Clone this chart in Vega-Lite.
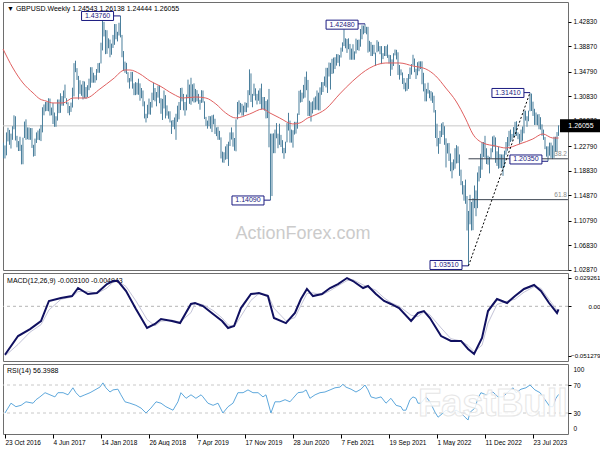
{
"$schema":"https://vega.github.io/schema/vega-lite/v6.json",
"padding":{"left":0,"top":1,"right":0,"bottom":0},
"background":"white",
"spacing":3,
"bounds":"flush",
"config":{"view":{"stroke":"#6e6e6e","strokeWidth":1},"font":"Liberation Sans","axis":{"labelFont":"Liberation Sans","labelFontSize":6.5,"labelColor":"#000","tickColor":"#000","grid":false,"domain":false,"labelOverlap":false},"text":{"font":"Liberation Sans"}},
"datasets":{
"bars":[
{"t":"2016-10-16","h":1.2335,"l":1.2085},{"t":"2016-10-23","h":1.2290,"l":1.2080},{"t":"2016-10-30","h":1.2500,"l":1.2130},{"t":"2016-11-06","h":1.2575,"l":1.2355},{"t":"2016-11-13","h":1.2540,"l":1.2300},{"t":"2016-11-20","h":1.2480,"l":1.2240},{"t":"2016-11-27","h":1.2600,"l":1.2380},{"t":"2016-12-04","h":1.2775,"l":1.2550},{"t":"2016-12-11","h":1.2760,"l":1.2370},{"t":"2016-12-18","h":1.2445,"l":1.2260},{"t":"2016-12-25","h":1.2360,"l":1.2200},
{"t":"2017-01-01","h":1.2430,"l":1.2200},{"t":"2017-01-08","h":1.2300,"l":1.1985},{"t":"2017-01-15","h":1.2415,"l":1.1987},{"t":"2017-01-22","h":1.2675,"l":1.2410},{"t":"2017-01-29","h":1.2710,"l":1.2380},{"t":"2017-02-05","h":1.2580,"l":1.2390},{"t":"2017-02-12","h":1.2580,"l":1.2380},{"t":"2017-02-19","h":1.2570,"l":1.2380},{"t":"2017-02-26","h":1.2570,"l":1.2250},{"t":"2017-03-05","h":1.2300,"l":1.2110},{"t":"2017-03-12","h":1.2400,"l":1.2120},{"t":"2017-03-19","h":1.2500,"l":1.2330},{"t":"2017-03-26","h":1.2530,"l":1.2380},{"t":"2017-04-02","h":1.2560,"l":1.2375},{"t":"2017-04-09","h":1.2620,"l":1.2360},{"t":"2017-04-16","h":1.2905,"l":1.2500},{"t":"2017-04-23","h":1.2950,"l":1.2775},{"t":"2017-04-30","h":1.2990,"l":1.2840},{"t":"2017-05-07","h":1.2990,"l":1.2845},{"t":"2017-05-14","h":1.3050,"l":1.2840},{"t":"2017-05-21","h":1.3045,"l":1.2770},{"t":"2017-05-28","h":1.2900,"l":1.2775},{"t":"2017-06-04","h":1.2975,"l":1.2635},{"t":"2017-06-11","h":1.2820,"l":1.2590},{"t":"2017-06-18","h":1.2760,"l":1.2590},{"t":"2017-06-25","h":1.3030,"l":1.2690},{"t":"2017-07-02","h":1.3030,"l":1.2810},{"t":"2017-07-09","h":1.3130,"l":1.2815},{"t":"2017-07-16","h":1.3085,"l":1.2930},{"t":"2017-07-23","h":1.3175,"l":1.2930},{"t":"2017-07-30","h":1.3270,"l":1.3050},{"t":"2017-08-06","h":1.3050,"l":1.2955},{"t":"2017-08-13","h":1.2985,"l":1.2810},{"t":"2017-08-20","h":1.2925,"l":1.2775},{"t":"2017-08-27","h":1.2980,"l":1.2830},{"t":"2017-09-03","h":1.3220,"l":1.2900},{"t":"2017-09-10","h":1.3615,"l":1.3080},{"t":"2017-09-17","h":1.3655,"l":1.3470},{"t":"2017-09-24","h":1.3535,"l":1.3345},{"t":"2017-10-01","h":1.3410,"l":1.3030},{"t":"2017-10-08","h":1.3340,"l":1.3120},{"t":"2017-10-15","h":1.3270,"l":1.3090},{"t":"2017-10-22","h":1.3330,"l":1.3030},{"t":"2017-10-29","h":1.3320,"l":1.3050},{"t":"2017-11-05","h":1.3230,"l":1.3040},{"t":"2017-11-12","h":1.3260,"l":1.3070},{"t":"2017-11-19","h":1.3365,"l":1.3180},{"t":"2017-11-26","h":1.3550,"l":1.3220},{"t":"2017-12-03","h":1.3550,"l":1.3300},{"t":"2017-12-10","h":1.3460,"l":1.3300},{"t":"2017-12-17","h":1.3420,"l":1.3300},{"t":"2017-12-24","h":1.3520,"l":1.3340},{"t":"2017-12-31","h":1.3615,"l":1.3460},
{"t":"2018-01-07","h":1.3620,"l":1.3460},{"t":"2018-01-14","h":1.3945,"l":1.3610},{"t":"2018-01-21","h":1.4345,"l":1.3820},{"t":"2018-01-28","h":1.4280,"l":1.4045},{"t":"2018-02-04","h":1.4150,"l":1.3760},{"t":"2018-02-11","h":1.4145,"l":1.3765},{"t":"2018-02-18","h":1.4015,"l":1.3855},{"t":"2018-02-25","h":1.3995,"l":1.3710},{"t":"2018-03-04","h":1.3930,"l":1.3750},{"t":"2018-03-11","h":1.4070,"l":1.3860},{"t":"2018-03-18","h":1.4245,"l":1.3910},{"t":"2018-03-25","h":1.4245,"l":1.4000},{"t":"2018-04-01","h":1.4120,"l":1.3965},{"t":"2018-04-08","h":1.4265,"l":1.4060},{"t":"2018-04-15","h":1.4376,"l":1.4030},{"t":"2018-04-22","h":1.4070,"l":1.3710},{"t":"2018-04-29","h":1.3810,"l":1.3490},{"t":"2018-05-06","h":1.3640,"l":1.3460},{"t":"2018-05-13","h":1.3620,"l":1.3440},{"t":"2018-05-20","h":1.3470,"l":1.3305},{"t":"2018-05-27","h":1.3375,"l":1.3205},{"t":"2018-06-03","h":1.3475,"l":1.3320},{"t":"2018-06-10","h":1.3475,"l":1.3205},{"t":"2018-06-17","h":1.3290,"l":1.3100},{"t":"2018-06-24","h":1.3310,"l":1.3100},{"t":"2018-07-01","h":1.3300,"l":1.3110},{"t":"2018-07-08","h":1.3365,"l":1.3105},{"t":"2018-07-15","h":1.3290,"l":1.3010},{"t":"2018-07-22","h":1.3215,"l":1.3050},{"t":"2018-07-29","h":1.3175,"l":1.2920},{"t":"2018-08-05","h":1.3000,"l":1.2725},{"t":"2018-08-12","h":1.2800,"l":1.2660},{"t":"2018-08-19","h":1.2945,"l":1.2730},{"t":"2018-08-26","h":1.3045,"l":1.2790},{"t":"2018-09-02","h":1.2990,"l":1.2785},{"t":"2018-09-09","h":1.3140,"l":1.2900},{"t":"2018-09-16","h":1.3300,"l":1.3020},{"t":"2018-09-23","h":1.3215,"l":1.3000},{"t":"2018-09-30","h":1.3150,"l":1.2920},{"t":"2018-10-07","h":1.3255,"l":1.3060},{"t":"2018-10-14","h":1.3260,"l":1.2970},{"t":"2018-10-21","h":1.3050,"l":1.2800},{"t":"2018-10-28","h":1.3040,"l":1.2700},{"t":"2018-11-04","h":1.3175,"l":1.2885},{"t":"2018-11-11","h":1.3100,"l":1.2725},{"t":"2018-11-18","h":1.2935,"l":1.2770},{"t":"2018-11-25","h":1.2840,"l":1.2720},{"t":"2018-12-02","h":1.2840,"l":1.2660},{"t":"2018-12-09","h":1.2690,"l":1.2475},{"t":"2018-12-16","h":1.2700,"l":1.2590},{"t":"2018-12-23","h":1.2740,"l":1.2550},{"t":"2018-12-30","h":1.2800,"l":1.2380},
{"t":"2019-01-06","h":1.2930,"l":1.2670},{"t":"2019-01-13","h":1.2990,"l":1.2710},{"t":"2019-01-20","h":1.3215,"l":1.2860},{"t":"2019-01-27","h":1.3220,"l":1.3000},{"t":"2019-02-03","h":1.3120,"l":1.2855},{"t":"2019-02-10","h":1.2990,"l":1.2770},{"t":"2019-02-17","h":1.3110,"l":1.2855},{"t":"2019-02-24","h":1.3350,"l":1.3050},{"t":"2019-03-03","h":1.3270,"l":1.2960},{"t":"2019-03-10","h":1.3380,"l":1.2945},{"t":"2019-03-17","h":1.3275,"l":1.3000},{"t":"2019-03-24","h":1.3290,"l":1.2980},{"t":"2019-03-31","h":1.3200,"l":1.2985},{"t":"2019-04-07","h":1.3180,"l":1.3000},{"t":"2019-04-14","h":1.3120,"l":1.2960},{"t":"2019-04-21","h":1.3025,"l":1.2865},{"t":"2019-04-28","h":1.3180,"l":1.2975},{"t":"2019-05-05","h":1.3175,"l":1.2980},{"t":"2019-05-12","h":1.3000,"l":1.2715},{"t":"2019-05-19","h":1.2750,"l":1.2605},{"t":"2019-05-26","h":1.2690,"l":1.2560},{"t":"2019-06-02","h":1.2765,"l":1.2600},{"t":"2019-06-09","h":1.2760,"l":1.2560},{"t":"2019-06-16","h":1.2775,"l":1.2505},{"t":"2019-06-23","h":1.2785,"l":1.2630},{"t":"2019-06-30","h":1.2720,"l":1.2475},{"t":"2019-07-07","h":1.2580,"l":1.2440},{"t":"2019-07-14","h":1.2590,"l":1.2380},{"t":"2019-07-21","h":1.2525,"l":1.2380},{"t":"2019-07-28","h":1.2420,"l":1.2080},{"t":"2019-08-04","h":1.2190,"l":1.2015},{"t":"2019-08-11","h":1.2180,"l":1.2010},{"t":"2019-08-18","h":1.2275,"l":1.2060},{"t":"2019-08-25","h":1.2310,"l":1.2070},{"t":"2019-09-01","h":1.2350,"l":1.1960},{"t":"2019-09-08","h":1.2500,"l":1.2280},{"t":"2019-09-15","h":1.2580,"l":1.2385},{"t":"2019-09-22","h":1.2500,"l":1.2270},{"t":"2019-09-29","h":1.2410,"l":1.2205},{"t":"2019-10-06","h":1.2710,"l":1.2195},{"t":"2019-10-13","h":1.2990,"l":1.2710},{"t":"2019-10-20","h":1.3015,"l":1.2790},{"t":"2019-10-27","h":1.2975,"l":1.2820},{"t":"2019-11-03","h":1.2960,"l":1.2770},{"t":"2019-11-10","h":1.2930,"l":1.2770},{"t":"2019-11-17","h":1.2985,"l":1.2825},{"t":"2019-11-24","h":1.2975,"l":1.2825},{"t":"2019-12-01","h":1.3180,"l":1.2900},{"t":"2019-12-08","h":1.3515,"l":1.3100},{"t":"2019-12-15","h":1.3450,"l":1.2990},{"t":"2019-12-22","h":1.3120,"l":1.2905},{"t":"2019-12-29","h":1.3285,"l":1.3090},
{"t":"2020-01-05","h":1.3210,"l":1.3015},{"t":"2020-01-12","h":1.3120,"l":1.2950},{"t":"2020-01-19","h":1.3175,"l":1.3010},{"t":"2020-01-26","h":1.3210,"l":1.2955},{"t":"2020-02-02","h":1.3285,"l":1.2870},{"t":"2020-02-09","h":1.3070,"l":1.2875},{"t":"2020-02-16","h":1.3070,"l":1.2850},{"t":"2020-02-23","h":1.3005,"l":1.2725},{"t":"2020-03-01","h":1.3030,"l":1.2730},{"t":"2020-03-08","h":1.3200,"l":1.2260},{"t":"2020-03-15","h":1.2480,"l":1.1410},{"t":"2020-03-22","h":1.2480,"l":1.1475},{"t":"2020-03-29","h":1.2485,"l":1.2165},{"t":"2020-04-05","h":1.2545,"l":1.2165},{"t":"2020-04-12","h":1.2650,"l":1.2405},{"t":"2020-04-19","h":1.2480,"l":1.2245},{"t":"2020-04-26","h":1.2640,"l":1.2300},{"t":"2020-05-03","h":1.2460,"l":1.2265},{"t":"2020-05-10","h":1.2375,"l":1.2165},{"t":"2020-05-17","h":1.2250,"l":1.2075},{"t":"2020-05-24","h":1.2350,"l":1.2165},{"t":"2020-05-31","h":1.2650,"l":1.2340},{"t":"2020-06-07","h":1.2815,"l":1.2530},{"t":"2020-06-14","h":1.2690,"l":1.2335},{"t":"2020-06-21","h":1.2545,"l":1.2335},{"t":"2020-06-28","h":1.2535,"l":1.2255},{"t":"2020-07-05","h":1.2670,"l":1.2465},{"t":"2020-07-12","h":1.2670,"l":1.2480},{"t":"2020-07-19","h":1.2805,"l":1.2560},{"t":"2020-07-26","h":1.3170,"l":1.2780},{"t":"2020-08-02","h":1.3185,"l":1.2980},{"t":"2020-08-09","h":1.3140,"l":1.2990},{"t":"2020-08-16","h":1.3265,"l":1.3045},{"t":"2020-08-23","h":1.3395,"l":1.3060},{"t":"2020-08-30","h":1.3480,"l":1.3180},{"t":"2020-09-06","h":1.3345,"l":1.2765},{"t":"2020-09-13","h":1.3010,"l":1.2765},{"t":"2020-09-20","h":1.2985,"l":1.2675},{"t":"2020-09-27","h":1.3000,"l":1.2805},{"t":"2020-10-04","h":1.3060,"l":1.2860},{"t":"2020-10-11","h":1.3080,"l":1.2865},{"t":"2020-10-18","h":1.3175,"l":1.2865},{"t":"2020-10-25","h":1.3140,"l":1.2855},{"t":"2020-11-01","h":1.3225,"l":1.2855},{"t":"2020-11-08","h":1.3310,"l":1.3105},{"t":"2020-11-15","h":1.3310,"l":1.3150},{"t":"2020-11-22","h":1.3400,"l":1.3250},{"t":"2020-11-29","h":1.3540,"l":1.3225},{"t":"2020-12-06","h":1.3540,"l":1.3135},{"t":"2020-12-13","h":1.3625,"l":1.3400},{"t":"2020-12-20","h":1.3620,"l":1.3190},{"t":"2020-12-27","h":1.3685,"l":1.3440},
{"t":"2021-01-03","h":1.3705,"l":1.3450},{"t":"2021-01-10","h":1.3710,"l":1.3520},{"t":"2021-01-17","h":1.3760,"l":1.3575},{"t":"2021-01-24","h":1.3760,"l":1.3620},{"t":"2021-01-31","h":1.3745,"l":1.3565},{"t":"2021-02-07","h":1.3865,"l":1.3705},{"t":"2021-02-14","h":1.3950,"l":1.3800},{"t":"2021-02-21","h":1.4240,"l":1.3890},{"t":"2021-02-28","h":1.4015,"l":1.3855},{"t":"2021-03-07","h":1.4005,"l":1.3780},{"t":"2021-03-14","h":1.4015,"l":1.3840},{"t":"2021-03-21","h":1.3925,"l":1.3670},{"t":"2021-03-28","h":1.3850,"l":1.3670},{"t":"2021-04-04","h":1.3920,"l":1.3670},{"t":"2021-04-11","h":1.3805,"l":1.3670},{"t":"2021-04-18","h":1.4010,"l":1.3770},{"t":"2021-04-25","h":1.3990,"l":1.3825},{"t":"2021-05-02","h":1.3995,"l":1.3815},{"t":"2021-05-09","h":1.4165,"l":1.3880},{"t":"2021-05-16","h":1.4225,"l":1.4000},{"t":"2021-05-23","h":1.4220,"l":1.4080},{"t":"2021-05-30","h":1.4248,"l":1.4100},{"t":"2021-06-06","h":1.4200,"l":1.4080},{"t":"2021-06-13","h":1.4200,"l":1.3785},{"t":"2021-06-20","h":1.3975,"l":1.3800},{"t":"2021-06-27","h":1.3955,"l":1.3730},{"t":"2021-07-04","h":1.3910,"l":1.3730},{"t":"2021-07-11","h":1.3910,"l":1.3760},{"t":"2021-07-18","h":1.3785,"l":1.3570},{"t":"2021-07-25","h":1.3985,"l":1.3790},{"t":"2021-08-01","h":1.3960,"l":1.3805},{"t":"2021-08-08","h":1.3890,"l":1.3760},{"t":"2021-08-15","h":1.3890,"l":1.3600},{"t":"2021-08-22","h":1.3775,"l":1.3680},{"t":"2021-08-29","h":1.3890,"l":1.3730},{"t":"2021-09-05","h":1.3890,"l":1.3730},{"t":"2021-09-12","h":1.3915,"l":1.3700},{"t":"2021-09-19","h":1.3750,"l":1.3610},{"t":"2021-09-26","h":1.3745,"l":1.3410},{"t":"2021-10-03","h":1.3675,"l":1.3510},{"t":"2021-10-10","h":1.3775,"l":1.3570},{"t":"2021-10-17","h":1.3835,"l":1.3740},{"t":"2021-10-24","h":1.3830,"l":1.3675},{"t":"2021-10-31","h":1.3790,"l":1.3425},{"t":"2021-11-07","h":1.3585,"l":1.3350},{"t":"2021-11-14","h":1.3515,"l":1.3420},{"t":"2021-11-21","h":1.3465,"l":1.3280},{"t":"2021-11-28","h":1.3375,"l":1.3195},{"t":"2021-12-05","h":1.3300,"l":1.3160},{"t":"2021-12-12","h":1.3375,"l":1.3170},{"t":"2021-12-19","h":1.3440,"l":1.3200},{"t":"2021-12-26","h":1.3545,"l":1.3360},
{"t":"2022-01-02","h":1.3600,"l":1.3430},{"t":"2022-01-09","h":1.3750,"l":1.3580},{"t":"2022-01-16","h":1.3690,"l":1.3470},{"t":"2022-01-23","h":1.3525,"l":1.3360},{"t":"2022-01-30","h":1.3630,"l":1.3420},{"t":"2022-02-06","h":1.3645,"l":1.3485},{"t":"2022-02-13","h":1.3645,"l":1.3520},{"t":"2022-02-20","h":1.3645,"l":1.3275},{"t":"2022-02-27","h":1.3460,"l":1.3160},{"t":"2022-03-06","h":1.3290,"l":1.3000},{"t":"2022-03-13","h":1.3200,"l":1.3000},{"t":"2022-03-20","h":1.3300,"l":1.3125},{"t":"2022-03-27","h":1.3180,"l":1.3050},{"t":"2022-04-03","h":1.3165,"l":1.3010},{"t":"2022-04-10","h":1.3145,"l":1.2975},{"t":"2022-04-17","h":1.3090,"l":1.2820},{"t":"2022-04-24","h":1.2860,"l":1.2410},{"t":"2022-05-01","h":1.2640,"l":1.2275},{"t":"2022-05-08","h":1.2410,"l":1.2155},{"t":"2022-05-15","h":1.2525,"l":1.2315},{"t":"2022-05-22","h":1.2645,"l":1.2425},{"t":"2022-05-29","h":1.2665,"l":1.2460},{"t":"2022-06-05","h":1.2600,"l":1.2300},{"t":"2022-06-12","h":1.2405,"l":1.1935},{"t":"2022-06-19","h":1.2325,"l":1.2160},{"t":"2022-06-26","h":1.2330,"l":1.2040},{"t":"2022-07-03","h":1.2160,"l":1.1875},{"t":"2022-07-10","h":1.2020,"l":1.1760},{"t":"2022-07-17","h":1.2065,"l":1.1890},{"t":"2022-07-24","h":1.2245,"l":1.1915},{"t":"2022-07-31","h":1.2295,"l":1.2000},{"t":"2022-08-07","h":1.2275,"l":1.2005},{"t":"2022-08-14","h":1.2145,"l":1.1800},{"t":"2022-08-21","h":1.1900,"l":1.1650},{"t":"2022-08-28","h":1.1715,"l":1.1500},{"t":"2022-09-04","h":1.1650,"l":1.1400},{"t":"2022-09-11","h":1.1740,"l":1.1350},{"t":"2022-09-18","h":1.1475,"l":1.0920},{"t":"2022-09-25","h":1.1235,"l":1.0351},{"t":"2022-10-02","h":1.1495,"l":1.1020},{"t":"2022-10-09","h":1.1380,"l":1.0920},{"t":"2022-10-16","h":1.1440,"l":1.0925},{"t":"2022-10-23","h":1.1645,"l":1.1280},{"t":"2022-10-30","h":1.1565,"l":1.1150},{"t":"2022-11-06","h":1.1855,"l":1.1280},{"t":"2022-11-13","h":1.1955,"l":1.1710},{"t":"2022-11-20","h":1.2155,"l":1.1765},{"t":"2022-11-27","h":1.2345,"l":1.1900},{"t":"2022-12-04","h":1.2345,"l":1.2105},{"t":"2022-12-11","h":1.2445,"l":1.2090},{"t":"2022-12-18","h":1.2245,"l":1.1990},{"t":"2022-12-25","h":1.2125,"l":1.1980},
{"t":"2023-01-01","h":1.2105,"l":1.1840},{"t":"2023-01-08","h":1.2245,"l":1.2085},{"t":"2023-01-15","h":1.2435,"l":1.2180},{"t":"2023-01-22","h":1.2450,"l":1.2265},{"t":"2023-01-29","h":1.2420,"l":1.2010},{"t":"2023-02-05","h":1.2195,"l":1.1960},{"t":"2023-02-12","h":1.2270,"l":1.1915},{"t":"2023-02-19","h":1.2150,"l":1.1925},{"t":"2023-02-26","h":1.2145,"l":1.1925},{"t":"2023-03-05","h":1.2145,"l":1.1800},{"t":"2023-03-12","h":1.2205,"l":1.1940},{"t":"2023-03-19","h":1.2345,"l":1.2140},{"t":"2023-03-26","h":1.2425,"l":1.2205},{"t":"2023-04-02","h":1.2525,"l":1.2275},{"t":"2023-04-09","h":1.2545,"l":1.2345},{"t":"2023-04-16","h":1.2475,"l":1.2365},{"t":"2023-04-23","h":1.2585,"l":1.2420},{"t":"2023-04-30","h":1.2670,"l":1.2440},{"t":"2023-05-07","h":1.2680,"l":1.2445},{"t":"2023-05-14","h":1.2500,"l":1.2390},{"t":"2023-05-21","h":1.2475,"l":1.2310},{"t":"2023-05-28","h":1.2545,"l":1.2340},{"t":"2023-06-04","h":1.2595,"l":1.2365},{"t":"2023-06-11","h":1.2850,"l":1.2485},{"t":"2023-06-18","h":1.2850,"l":1.2690},{"t":"2023-06-25","h":1.2760,"l":1.2590},{"t":"2023-07-02","h":1.2850,"l":1.2680},{"t":"2023-07-09","h":1.3141,"l":1.2840},{"t":"2023-07-16","h":1.3125,"l":1.2845},{"t":"2023-07-23","h":1.2995,"l":1.2765},{"t":"2023-07-30","h":1.2880,"l":1.2620},{"t":"2023-08-06","h":1.2820,"l":1.2620},{"t":"2023-08-13","h":1.2790,"l":1.2615},{"t":"2023-08-20","h":1.2795,"l":1.2550},{"t":"2023-08-27","h":1.2745,"l":1.2545},{"t":"2023-09-03","h":1.2630,"l":1.2445},{"t":"2023-09-10","h":1.2545,"l":1.2380},{"t":"2023-09-17","h":1.2425,"l":1.2230},{"t":"2023-09-24","h":1.2275,"l":1.2110},{"t":"2023-10-01","h":1.2275,"l":1.2035},{"t":"2023-10-08","h":1.2335,"l":1.2125},{"t":"2023-10-15","h":1.2335,"l":1.2090},{"t":"2023-10-22","h":1.2290,"l":1.2070},{"t":"2023-10-29","h":1.2430,"l":1.2090},{"t":"2023-11-05","h":1.2430,"l":1.2185},{"t":"2023-11-12","h":1.2505,"l":1.2185},{"t":"2023-11-19","h":1.2614,"l":1.2444}
],
"ma":[
{"d":"2016-10-14","v":1.3843},{"d":"2016-11-29","v":1.3537},{"d":"2017-01-15","v":1.3296},{"d":"2017-03-03","v":1.3135},{"d":"2017-04-04","v":1.3038},{"d":"2017-05-02","v":1.3006},{"d":"2017-06-04","v":1.2974},{"d":"2017-07-21","v":1.2974},{"d":"2017-09-05","v":1.3054},{"d":"2017-11-05","v":1.3054},{"d":"2018-01-09","v":1.3199},{"d":"2018-03-11","v":1.3360},{"d":"2018-05-06","v":1.3505},{"d":"2018-05-29","v":1.3505},{"d":"2018-07-15","v":1.3441},{"d":"2018-08-31","v":1.3328},{"d":"2018-10-16","v":1.3248},{"d":"2018-12-16","v":1.3119},{"d":"2019-01-31","v":1.3054},{"d":"2019-04-01","v":1.3070},{"d":"2019-05-18","v":1.3054},{"d":"2019-07-04","v":1.2958},{"d":"2019-08-19","v":1.2813},{"d":"2019-10-05","v":1.2732},{"d":"2019-12-09","v":1.2797},{"d":"2020-02-08","v":1.2877},{"d":"2020-03-12","v":1.2813},{"d":"2020-04-27","v":1.2732},{"d":"2020-06-27","v":1.2636},{"d":"2020-07-30","v":1.2652},{"d":"2020-09-05","v":1.2732},{"d":"2020-09-28","v":1.2765},{"d":"2020-11-28","v":1.2877},{"d":"2021-02-01","v":1.3119},{"d":"2021-04-03","v":1.3328},{"d":"2021-06-21","v":1.3537},{"d":"2021-09-04","v":1.3618},{"d":"2021-11-08","v":1.3618},{"d":"2022-01-08","v":1.3570},{"d":"2022-03-10","v":1.3521},{"d":"2022-04-25","v":1.3409},{"d":"2022-06-11","v":1.3215},{"d":"2022-07-28","v":1.3006},{"d":"2022-09-12","v":1.2716},{"d":"2022-10-15","v":1.2475},{"d":"2022-12-01","v":1.2330},{"d":"2023-01-30","v":1.2281},{"d":"2023-03-18","v":1.2249},{"d":"2023-05-22","v":1.2314},{"d":"2023-07-22","v":1.2394},{"d":"2023-09-07","v":1.2475},{"d":"2023-10-23","v":1.2410},{"d":"2023-11-19","v":1.2410}
],
"macd":[
{"d":"2016-10-23","m":-0.0500,"s":-0.0513},{"d":"2016-12-23","m":-0.0307,"s":-0.0394},{"d":"2017-02-17","m":-0.0235,"s":-0.0267},{"d":"2017-04-09","m":-0.0152,"s":-0.0190},{"d":"2017-05-16","m":0.0055,"s":-0.0038},{"d":"2017-07-11","m":0.0086,"s":0.0072},{"d":"2017-09-01","m":0.0106,"s":0.0097},{"d":"2017-09-29","m":0.0189,"s":0.0152},{"d":"2017-11-14","m":0.0127,"s":0.0155},{"d":"2017-12-26","m":0.0137,"s":0.0132},{"d":"2018-02-11","m":0.0230,"s":0.0189},{"d":"2018-03-11","m":0.0261,"s":0.0248},{"d":"2018-04-03","m":0.0261,"s":0.0261},{"d":"2018-05-11","m":0.0158,"s":0.0204},{"d":"2018-06-26","m":-0.0028,"s":0.0056},{"d":"2018-08-17","m":-0.0224,"s":-0.0136},{"d":"2018-09-23","m":-0.0183,"s":-0.0202},{"d":"2018-10-21","m":-0.0131,"s":-0.0154},{"d":"2018-12-11","m":-0.0152,"s":-0.0143},{"d":"2019-01-18","m":-0.0173,"s":-0.0163},{"d":"2019-03-10","m":0.0024,"s":-0.0065},{"d":"2019-03-29","m":0.0034,"s":0.0030},{"d":"2019-05-05","m":0.0003,"s":0.0017},{"d":"2019-06-21","m":-0.0080,"s":-0.0043},{"d":"2019-08-02","m":-0.0152,"s":-0.0120},{"d":"2019-08-30","m":-0.0224,"s":-0.0191},{"d":"2019-09-27","m":-0.0204,"s":-0.0213},{"d":"2019-10-29","m":-0.0018,"s":-0.0102},{"d":"2019-12-15","m":0.0127,"s":0.0062},{"d":"2020-01-21","m":0.0137,"s":0.0132},{"d":"2020-03-03","m":0.0106,"s":0.0120},{"d":"2020-03-31","m":-0.0121,"s":-0.0019},{"d":"2020-05-26","m":-0.0173,"s":-0.0149},{"d":"2020-07-07","m":-0.0069,"s":-0.0116},{"d":"2020-08-04","m":0.0075,"s":0.0010},{"d":"2020-09-01","m":0.0179,"s":0.0132},{"d":"2020-09-29","m":0.0106,"s":0.0139},{"d":"2020-11-10","m":0.0127,"s":0.0118},{"d":"2020-12-18","m":0.0189,"s":0.0161},{"d":"2021-01-24","m":0.0230,"s":0.0212},{"d":"2021-03-07","m":0.0292,"s":0.0265},{"d":"2021-04-04","m":0.0261,"s":0.0275},{"d":"2021-05-21","m":0.0189,"s":0.0221},{"d":"2021-06-13","m":0.0210,"s":0.0201},{"d":"2021-07-20","m":0.0127,"s":0.0165},{"d":"2021-08-27","m":0.0055,"s":0.0087},{"d":"2021-09-28","m":0.0024,"s":0.0038},{"d":"2021-11-05","m":-0.0018,"s":0.0001},{"d":"2021-12-31","m":-0.0152,"s":-0.0092},{"d":"2022-02-01","m":-0.0069,"s":-0.0106},{"d":"2022-03-01","m":-0.0049,"s":-0.0058},{"d":"2022-03-29","m":-0.0121,"s":-0.0089},{"d":"2022-05-20","m":-0.0307,"s":-0.0223},{"d":"2022-07-05","m":-0.0358,"s":-0.0335},{"d":"2022-08-21","m":-0.0358,"s":-0.0358},{"d":"2022-09-23","m":-0.0441,"s":-0.0404},{"d":"2022-10-21","m":-0.0493,"s":-0.0469},{"d":"2022-11-27","m":-0.0327,"s":-0.0402},{"d":"2022-12-25","m":-0.0049,"s":-0.0174},{"d":"2023-02-05","m":0.0075,"s":0.0019},{"d":"2023-03-24","m":0.0034,"s":0.0053},{"d":"2023-04-30","m":0.0106,"s":0.0073},{"d":"2023-06-11","m":0.0179,"s":0.0146},{"d":"2023-07-28","m":0.0220,"s":0.0202},{"d":"2023-08-29","m":0.0158,"s":0.0186},{"d":"2023-10-06","m":0.0034,"s":0.0070},{"d":"2023-11-12","m":-0.0069,"s":-0.0040},{"d":"2023-11-19","m":-0.0031,"s":-0.0049}
],
"rsi":[
{"d":"2016-10-23","r":30},{"d":"2016-11-06","r":37},{"d":"2016-11-20","r":44},{"d":"2016-12-13","r":39},{"d":"2017-01-06","r":41},{"d":"2017-01-29","r":46},{"d":"2017-03-03","r":44},{"d":"2017-03-17","r":49},{"d":"2017-04-04","r":53},{"d":"2017-04-28","r":59},{"d":"2017-05-21","r":56},{"d":"2017-06-13","r":53},{"d":"2017-06-27","r":59},{"d":"2017-07-21","r":59},{"d":"2017-08-13","r":56},{"d":"2017-09-05","r":66},{"d":"2017-09-19","r":59},{"d":"2017-10-08","r":53},{"d":"2017-10-31","r":56},{"d":"2017-11-24","r":59},{"d":"2017-12-17","r":63},{"d":"2018-01-09","r":67},{"d":"2018-01-23","r":73},{"d":"2018-02-06","r":66},{"d":"2018-02-25","r":60},{"d":"2018-03-11","r":63},{"d":"2018-04-03","r":64},{"d":"2018-04-17","r":56},{"d":"2018-05-06","r":46},{"d":"2018-05-29","r":44},{"d":"2018-06-26","r":41},{"d":"2018-07-20","r":37},{"d":"2018-08-12","r":30},{"d":"2018-09-04","r":37},{"d":"2018-09-28","r":46},{"d":"2018-10-21","r":44},{"d":"2018-11-13","r":39},{"d":"2018-12-16","r":34},{"d":"2019-01-08","r":46},{"d":"2019-01-22","r":59},{"d":"2019-02-15","r":51},{"d":"2019-03-10","r":56},{"d":"2019-04-02","r":51},{"d":"2019-04-26","r":56},{"d":"2019-05-05","r":53},{"d":"2019-05-28","r":44},{"d":"2019-06-21","r":41},{"d":"2019-07-14","r":44},{"d":"2019-08-06","r":30},{"d":"2019-08-30","r":39},{"d":"2019-09-22","r":44},{"d":"2019-10-15","r":59},{"d":"2019-11-08","r":59},{"d":"2019-12-01","r":63},{"d":"2019-12-24","r":59},{"d":"2020-01-17","r":59},{"d":"2020-02-09","r":53},{"d":"2020-02-23","r":56},{"d":"2020-03-17","r":30},{"d":"2020-04-05","r":46},{"d":"2020-04-28","r":46},{"d":"2020-05-22","r":49},{"d":"2020-06-14","r":46},{"d":"2020-06-28","r":51},{"d":"2020-07-21","r":59},{"d":"2020-08-14","r":60},{"d":"2020-08-28","r":63},{"d":"2020-09-15","r":51},{"d":"2020-10-09","r":56},{"d":"2020-11-01","r":59},{"d":"2020-11-24","r":60},{"d":"2020-12-18","r":63},{"d":"2021-01-10","r":66},{"d":"2021-02-02","r":67},{"d":"2021-02-16","r":71},{"d":"2021-03-02","r":67},{"d":"2021-03-26","r":64},{"d":"2021-04-18","r":60},{"d":"2021-05-11","r":64},{"d":"2021-05-30","r":70},{"d":"2021-06-13","r":63},{"d":"2021-06-27","r":53},{"d":"2021-07-20","r":51},{"d":"2021-08-13","r":53},{"d":"2021-09-05","r":44},{"d":"2021-09-28","r":51},{"d":"2021-10-22","r":41},{"d":"2021-11-14","r":39},{"d":"2021-11-23","r":34},{"d":"2021-12-07","r":34},{"d":"2021-12-26","r":49},{"d":"2022-01-09","r":53},{"d":"2022-01-23","r":51},{"d":"2022-02-01","r":44},{"d":"2022-02-15","r":44},{"d":"2022-03-11","r":53},{"d":"2022-03-29","r":46},{"d":"2022-04-22","r":31},{"d":"2022-05-06","r":24},{"d":"2022-05-29","r":30},{"d":"2022-06-12","r":34},{"d":"2022-07-05","r":30},{"d":"2022-07-29","r":34},{"d":"2022-08-21","r":30},{"d":"2022-09-09","r":24},{"d":"2022-09-23","r":20},{"d":"2022-10-02","r":31},{"d":"2022-10-25","r":37},{"d":"2022-11-08","r":51},{"d":"2022-11-22","r":59},{"d":"2022-12-16","r":56},{"d":"2023-01-17","r":60},{"d":"2023-02-10","r":53},{"d":"2023-03-05","r":53},{"d":"2023-03-28","r":60},{"d":"2023-04-21","r":66},{"d":"2023-05-05","r":59},{"d":"2023-05-28","r":64},{"d":"2023-06-20","r":66},{"d":"2023-07-09","r":70},{"d":"2023-08-01","r":63},{"d":"2023-08-25","r":59},{"d":"2023-09-17","r":49},{"d":"2023-10-10","r":39},{"d":"2023-10-24","r":39},{"d":"2023-11-07","r":51},{"d":"2023-11-19","r":56.4}
],
"labels":[
{"d":"2017-12-29","p":1.4375,"txt":"1.43760"},{"d":"2021-02-12","p":1.4235,"txt":"1.42480"},{"d":"2019-12-01","p":1.1404,"txt":"1.14090"},{"d":"2022-06-12","p":1.0365,"txt":"1.03510"},{"d":"2023-03-28","p":1.3135,"txt":"1.31410"},{"d":"2023-06-20","p":1.2064,"txt":"1.20350"}
],
"conn":[
{"d1":"2018-03-13","d2":"2018-04-15","p":1.4376},{"d1":"2021-04-27","d2":"2021-05-30","p":1.4248},{"d1":"2020-02-14","d2":"2020-03-15","p":1.1409},{"d1":"2022-08-25","d2":"2022-09-25","p":1.0351},{"d1":"2023-06-11","d2":"2023-07-09","p":1.3141},{"d1":"2023-09-02","d2":"2023-10-01","p":1.2035}
],
"fib":[
{"d1":"2022-09-25","d2":"2024-01-02","p":1.2075,"txt":"38.2"},{"d1":"2022-09-25","d2":"2024-01-02","p":1.1417,"txt":"61.8"}
],
"trend":[{"d":"2022-09-25","p":1.0351},{"d":"2023-07-09","p":1.3141}],
"last":[{"d":"2024-03-03","p":1.26055,"txt":"1.26055"}],
"wm":[{"d":"2020-08-14","p":1.0864,"txt":"ActionForex.com"}],
"head":[{"d":"2016-10-14","p":1.4487,"txt":"▼ GBPUSD.Weekly  1.24543 1.26138 1.24444 1.26055"}],
"mhead":[{"d":"2016-10-14","v":0.0261,"txt":"MACD(12,26,9) -0.003100 -0.004943"}],
"rhead":[{"d":"2016-10-14","v":90,"txt":"RSI(14) 56.3988"}],
"rlab":[{"d":"2024-01-28","v":92,"txt":"100"},{"d":"2024-01-28","v":7,"txt":"0"}],
"zero":[{"v":0}],
"lev":[{"v":70},{"v":30}],
"fb":[{"d":"2023-01-17","r":41,"txt":"FastBull"}]
},
"vconcat":[
{
"width":565,"height":268,
"layer":[
{"data":{"name":"last"},"mark":{"type":"rule","color":"#c8c8c8","strokeWidth":1},"encoding":{"y":{"field":"p","type":"quantitative","title":null,"scale":{"domain":[1.0284,1.46],"nice":false,"zero":false},"axis":{"orient":"right","values":[1.0287,1.0683,1.1079,1.1487,1.1883,1.2279,1.2687,1.3083,1.3479,1.3887,1.4283],"tickCount":30,"format":".5f","tickSize":3,"labelPadding":2,"labelOverlap":false,"labelFontSize":6.5}}}},
{"data":{"name":"wm"},"mark":{"type":"text","fontSize":18,"color":"#cbcbcb"},"encoding":{"x":{"field":"d","type":"temporal","title":null,"scale":{"type":"utc","domain":[{"year":2016,"month":10,"date":13,"hours":18,"utc":true},{"year":2024,"month":1,"date":2,"hours":7,"utc":true}]},"axis":null},"y":{"field":"p","type":"quantitative"},"text":{"field":"txt"}}},
{"data":{"name":"head"},"mark":{"type":"text","fontSize":7,"color":"#000","align":"left","baseline":"middle","dx":4},"encoding":{"x":{"field":"d","type":"temporal"},"y":{"field":"p","type":"quantitative"},"text":{"field":"txt"}}},
{"data":{"name":"bars"},"mark":{"type":"rule","color":"#4a7f9c","strokeWidth":1},"encoding":{"x":{"field":"t","type":"temporal"},"y":{"field":"l","type":"quantitative"},"y2":{"field":"h"}}},
{"data":{"name":"ma"},"mark":{"type":"line","color":"#e06060","strokeWidth":1,"interpolate":"monotone"},"encoding":{"x":{"field":"d","type":"temporal"},"y":{"field":"v","type":"quantitative"}}},
{"data":{"name":"fib"},"mark":{"type":"rule","color":"#3c4450","strokeWidth":1},"encoding":{"x":{"field":"d1","type":"temporal"},"x2":{"field":"d2"},"y":{"field":"p","type":"quantitative"}}},
{"data":{"name":"fib"},"mark":{"type":"text","fontSize":6.5,"color":"#8a8a8a","align":"right","dy":-5,"dx":-1},"encoding":{"x":{"field":"d2","type":"temporal"},"y":{"field":"p","type":"quantitative"},"text":{"field":"txt"}}},
{"data":{"name":"trend"},"mark":{"type":"line","color":"#000000","strokeWidth":1,"strokeDash":[2,2]},"encoding":{"x":{"field":"d","type":"temporal"},"y":{"field":"p","type":"quantitative"}}},
{"data":{"name":"conn"},"mark":{"type":"rule","color":"#1a1a80","strokeWidth":1},"encoding":{"x":{"field":"d1","type":"temporal"},"x2":{"field":"d2"},"y":{"field":"p","type":"quantitative"}}},
{"data":{"name":"labels"},"mark":{"type":"point","shape":"M-1.6,-0.45H1.6V0.45H-1.6Z","size":400,"fill":"white","stroke":"#1a1a80","strokeWidth":1,"opacity":1,"fillOpacity":1},"encoding":{"x":{"field":"d","type":"temporal"},"y":{"field":"p","type":"quantitative"}}},
{"data":{"name":"labels"},"mark":{"type":"text","fontSize":7,"color":"#1a1a80","align":"center","baseline":"middle"},"encoding":{"x":{"field":"d","type":"temporal"},"y":{"field":"p","type":"quantitative"},"text":{"field":"txt"}}},
{"data":{"name":"last"},"mark":{"type":"point","shape":"M-2,-0.55H2V0.55H-2Z","size":400,"fill":"black","stroke":"black","opacity":1,"fillOpacity":1},"encoding":{"x":{"field":"d","type":"temporal"},"y":{"field":"p","type":"quantitative"}}},
{"data":{"name":"last"},"mark":{"type":"text","fontSize":7,"color":"white","align":"center","baseline":"middle"},"encoding":{"x":{"field":"d","type":"temporal"},"y":{"field":"p","type":"quantitative"},"text":{"field":"txt"}}}
]
},
{
"width":565,"height":88,
"layer":[
{"data":{"name":"zero"},"mark":{"type":"rule","color":"#b4b4b4","strokeDash":[3,3],"strokeWidth":1},"encoding":{"y":{"field":"v","type":"quantitative","title":null,"scale":{"domain":[-0.0565,0.0344],"nice":false,"zero":false},"axis":{"orient":"right","values":[0.029261,0,-0.051279],"tickCount":30,"labelExpr":"datum.value == 0 ? '0.00' : format(datum.value, '.6f')","tickSize":3,"labelAlign":"right","labelPadding":29,"labelOverlap":false,"labelFontSize":6.2}}}},
{"data":{"name":"mhead"},"mark":{"type":"text","fontSize":7,"color":"#000","align":"left","baseline":"middle","dx":4},"encoding":{"x":{"field":"d","type":"temporal","title":null,"scale":{"type":"utc","domain":[{"year":2016,"month":10,"date":13,"hours":18,"utc":true},{"year":2024,"month":1,"date":2,"hours":7,"utc":true}]},"axis":null},"y":{"field":"v","type":"quantitative"},"text":{"field":"txt"}}},
{"data":{"name":"macd"},"mark":{"type":"line","color":"#c4c4d8","strokeWidth":1},"encoding":{"x":{"field":"d","type":"temporal"},"y":{"field":"s","type":"quantitative"}}},
{"data":{"name":"macd"},"mark":{"type":"line","color":"#101060","strokeWidth":2},"encoding":{"x":{"field":"d","type":"temporal"},"y":{"field":"m","type":"quantitative"}}}
]
},
{
"width":565,"height":70,
"layer":[
{"data":{"name":"lev"},"mark":{"type":"rule","color":"#c8c8c8","strokeDash":[3,3],"strokeWidth":1},"encoding":{"y":{"field":"v","type":"quantitative","title":null,"scale":{"domain":[0,100],"nice":false},"axis":{"orient":"right","values":[70,30],"tickCount":30,"format":"d","tickSize":3,"labelPadding":2,"labelOverlap":false,"labelFontSize":6.5}}}},
{"data":{"name":"rhead"},"mark":{"type":"text","fontSize":7,"color":"#000","align":"left","baseline":"middle","dx":4},"encoding":{"x":{"field":"d","type":"temporal","title":null,"scale":{"type":"utc","domain":[{"year":2016,"month":10,"date":13,"hours":18,"utc":true},{"year":2024,"month":1,"date":2,"hours":7,"utc":true}]},"axis":{"values":[{"year":2016,"month":10,"date":23,"utc":true},{"year":2017,"month":6,"date":4,"utc":true},{"year":2018,"month":1,"date":14,"utc":true},{"year":2018,"month":8,"date":26,"utc":true},{"year":2019,"month":4,"date":7,"utc":true},{"year":2019,"month":11,"date":17,"utc":true},{"year":2020,"month":6,"date":28,"utc":true},{"year":2021,"month":2,"date":7,"utc":true},{"year":2021,"month":9,"date":19,"utc":true},{"year":2022,"month":5,"date":1,"utc":true},{"year":2022,"month":12,"date":11,"utc":true},{"year":2023,"month":7,"date":23,"utc":true}],"tickCount":30,"labelExpr":"utcFormat(datum.value, '%-d %b %Y')","labelAlign":"left","tickSize":4,"labelPadding":1,"labelOverlap":false,"labelFontSize":6.5}},"y":{"field":"v","type":"quantitative"},"text":{"field":"txt"}}},
{"data":{"name":"rlab"},"mark":{"type":"text","fontSize":6.5,"color":"#000","align":"left","baseline":"middle"},"encoding":{"x":{"field":"d","type":"temporal"},"y":{"field":"v","type":"quantitative"},"text":{"field":"txt"}}},
{"data":{"name":"rsi"},"mark":{"type":"line","color":"#5ea8dc","strokeWidth":1},"encoding":{"x":{"field":"d","type":"temporal"},"y":{"field":"r","type":"quantitative"}}},
{"data":{"name":"fb"},"mark":{"type":"text","fontSize":38,"fontWeight":"bold","fill":"white","stroke":"#e6e6e6","strokeWidth":1,"fillOpacity":0.85},"encoding":{"x":{"field":"d","type":"temporal"},"y":{"field":"r","type":"quantitative"},"text":{"field":"txt"}}}
]
}
]
}
